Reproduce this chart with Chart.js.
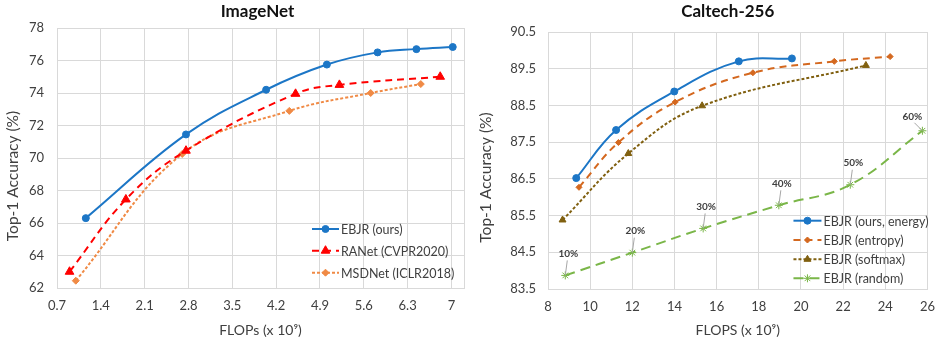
<!DOCTYPE html>
<html><head><meta charset="utf-8">
<script src="https://cdn.jsdelivr.net/npm/chart.js@4/dist/chart.umd.min.js"></script>
<style>
html,body{margin:0;padding:0;background:#fff;}
#w{position:relative;width:945px;height:340px;overflow:hidden;background:#fff;}
.c{position:absolute;top:0;height:340px;}
#c1w{left:0;width:470px;}
#c2w{left:472px;width:473px;}
</style></head><body>
<div id="w"><div class="c" id="c1w"><canvas id="c1"></canvas></div><div class="c" id="c2w"><canvas id="c2"></canvas></div></div>
<script>
// ---------- data ----------
const imagenetXTicks = [0.7, 1.4, 2.1, 2.8, 3.5, 4.2, 4.9, 5.6, 6.3, 7];
const imagenetYTicks = [62, 64, 66, 68, 70, 72, 74, 76, 78];
const ebjrFlops = [1.16, 2.76, 4.04, 5.01, 5.82, 6.44, 7.02];
const ebjrAcc   = [66.3, 71.45, 74.2, 75.75, 76.5, 76.7, 76.83];
const ranetFlops = [0.9, 1.8, 2.76, 4.51, 5.21, 6.82];
const ranetAcc   = [63.0, 67.45, 70.45, 73.95, 74.5, 75.0];
const msdFlops = [1.0, 2.7, 4.41, 5.71, 6.51];
const msdAcc   = [62.45, 70.25, 72.9, 74.0, 74.55];

const caltechXTicks = [8, 10, 12, 14, 16, 18, 20, 22, 24, 26];
const caltechYTicks = [83.5, 84.5, 85.5, 86.5, 87.5, 88.5, 89.5, 90.5];
const energyFlops = [9.34, 11.23, 13.99, 17.05, 19.57];
const energyAcc   = [86.52, 87.83, 88.88, 89.70, 89.78];
const entropyFlops = [9.47, 11.34, 14.03, 17.72, 21.58, 24.23];
const entropyAcc   = [86.27, 87.49, 88.59, 89.39, 89.70, 89.83];
const softmaxFlops = [8.69, 11.81, 15.31, 23.08];
const softmaxAcc   = [85.38, 87.19, 88.49, 89.59];
const randomFlops = [8.82, 12.0, 15.36, 18.95, 22.34, 25.76];
const randomAcc   = [83.87, 84.49, 85.15, 85.78, 86.34, 87.81];
const randomLabels = ['10%', '20%', '30%', '40%', '50%', '60%'];

// ---------- helpers ----------
const FONT = "Lato, 'Liberation Sans', sans-serif";
const GRID = '#d9d9d9';
const TXT = '#404040';
function pts(xs, ys) { return xs.map((x, i) => ({x: x, y: ys[i]})); }

const boxPlugin = {
  id: 'box',
  beforeDatasetsDraw(chart) {
    const c = chart.ctx, a = chart.chartArea;
    c.save(); c.strokeStyle = GRID; c.lineWidth = 1;
    c.strokeRect(Math.round(a.left) + 0.5, Math.round(a.top) + 0.5, Math.round(a.right - a.left), Math.round(a.bottom - a.top));
    c.restore();
  }
};
const titlePlugin = {
  id: 'ptitle',
  afterDraw(chart, args, o) {
    const c = chart.ctx, a = chart.chartArea;
    c.save(); c.font = 'bold 17px ' + FONT; c.fillStyle = '#111'; c.textAlign = 'center'; c.textBaseline = 'middle';
    c.fillText(o.text, (a.left + a.right) / 2 + o.dx, o.y);
    // vertical axis title
    c.translate(o.yx, (a.top + a.bottom) / 2 + o.ydy);
    c.rotate(-Math.PI / 2);
    c.font = '15.5px ' + FONT; c.fillStyle = TXT;
    c.fillText(o.yText, 0, 0);
    c.restore();
  }
};
function marker(c, ds, x, y) {
  if (Chart.helpers && Chart.helpers.drawPoint) {
    c.fillStyle = ds.pointBackgroundColor || ds.borderColor;
    c.strokeStyle = ds.borderColor; c.lineWidth = ds.pointBorderWidth || 1;
    Chart.helpers.drawPoint(c, {pointStyle: ds.pointStyle, radius: ds.pointRadius, rotation: 0, borderWidth: ds.pointBorderWidth || 1}, x, y);
  }
}
const legendPlugin = {
  id: 'clegend',
  afterDraw(chart, args, o) {
    const c = chart.ctx, a = chart.chartArea;
    const x0 = a.right + o.dx;
    chart.data.datasets.forEach((ds, i) => {
      const y = a.bottom + o.rows[i];
      c.save();
      c.strokeStyle = ds.borderColor; c.lineWidth = ds.borderWidth;
      c.setLineDash(ds.borderDash || []);
      c.beginPath(); c.moveTo(x0, y); c.lineTo(x0 + o.len, y); c.stroke();
      c.setLineDash([]);
      marker(c, ds, x0 + o.len / 2, y);
      c.font = '12.5px ' + FONT; c.fillStyle = TXT; c.textAlign = 'left'; c.textBaseline = 'middle';
      c.fillText(ds.label, x0 + o.len + 2, y + 1);
      c.restore();
    });
  }
};
const pctPlugin = {
  id: 'pct',
  afterDatasetsDraw(chart, args, o) {
    const meta = chart.getDatasetMeta(o.index);
    const c = chart.ctx, a = chart.chartArea;
    c.save();
    c.font = 'bold 10px ' + FONT; c.textAlign = 'center'; c.textBaseline = 'middle';
    meta.data.forEach((p, i) => {
      const txt = o.labels[i];
      const w = c.measureText(txt).width;
      let dx = 3, dy = -22;
      if (p.x + dx + w / 2 > a.right - 2) { dx = -10; dy = -14; }
      const lx = p.x + dx, ly = p.y + dy;
      c.strokeStyle = '#a6a6a6'; c.lineWidth = 1;
      c.beginPath();
      if (dy === -14) { c.moveTo(lx + 2, ly + 6); } else { c.moveTo(lx - 1, ly + 7); }
      c.lineTo(p.x, p.y); c.stroke();
      c.fillStyle = TXT;
      c.fillText(txt, lx, ly);
    });
    c.restore();
  }
};

function axes(xTicks, yTicks, xmin, xmax, ymin, ymax, xTitle, yAxisW, yPad, xAxisH) {
  return {
    x: {
      type: 'linear', min: xmin, max: xmax,
      afterBuildTicks: s => { s.ticks = xTicks.map(v => ({value: v})); },
      afterFit: s => { s.height = xAxisH; },
      grid: {color: GRID, drawTicks: false},
      border: {color: GRID},
      ticks: {padding: 10, color: TXT, font: {family: FONT, size: 13}, autoSkip: false, maxRotation: 0,
              callback: v => String(v)},
      title: {display: true, text: xTitle, color: TXT, font: {family: FONT, size: 14}, padding: {top: 0, bottom: 1}}
    },
    y: {
      type: 'linear', min: ymin, max: ymax,
      afterBuildTicks: s => { s.ticks = yTicks.map(v => ({value: v})); },
      afterFit: s => { s.width = yAxisW; },
      grid: {color: GRID, drawTicks: false},
      border: {color: GRID},
      ticks: {padding: yPad, color: TXT, font: {family: FONT, size: 13}, autoSkip: false,
              callback: v => String(v)},
      title: {display: false}
    }
  };
}

function line(label, xs, ys, color, dash, style, r, extra) {
  return Object.assign({
    label: label, data: pts(xs, ys), borderColor: color, backgroundColor: color,
    pointBackgroundColor: color, pointBorderColor: color, borderWidth: 2, borderDash: dash,
    pointStyle: style, pointRadius: r, pointBorderWidth: 1, tension: 0.4, fill: false
  }, extra || {});
}

// ---------- ImageNet ----------
new Chart(document.getElementById('c1'), {
  type: 'line',
  data: {datasets: [
    line('EBJR (ours)', ebjrFlops, ebjrAcc, '#1c76c6', [], 'circle', 3.5),
    line('RANet (CVPR2020)', ranetFlops, ranetAcc, '#ff0000', [7, 5], 'triangle', 5),
    line('MSDNet (ICLR2018)', msdFlops, msdAcc, '#f08a45', [3, 2], 'rectRot', 3.5)
  ]},
  options: {
    responsive: true, maintainAspectRatio: false, animation: false,
    layout: {padding: {top: 28, right: 5, left: 0, bottom: 0}},
    scales: axes(imagenetXTicks, imagenetYTicks, 0.7, 7.2, 62, 78, 'FLOPs (x 10⁹)', 57, 13, 52),
    plugins: {
      legend: {display: false}, tooltip: {enabled: false},
      ptitle: {text: 'ImageNet', y: 12, dx: -3, yText: 'Top-1 Accuracy (%)', yx: 13, ydy: 18},
      clegend: {dx: -152, len: 27, rows: [-59, -37.3, -15.3]}
    }
  },
  plugins: [boxPlugin, titlePlugin, legendPlugin]
});

// ---------- Caltech-256 ----------
new Chart(document.getElementById('c2'), {
  type: 'line',
  data: {datasets: [
    line('EBJR (ours, energy)', energyFlops, energyAcc, '#1c76c6', [], 'circle', 3.5),
    line('EBJR (entropy)', entropyFlops, entropyAcc, '#d4681f', [7, 5], 'rectRot', 3),
    line('EBJR (softmax)', softmaxFlops, softmaxAcc, '#806010', [3, 2], 'triangle', 4),
    line('EBJR (random)', randomFlops, randomAcc, '#7ab648', [10, 6], 'star', 4, {pointBorderWidth: 1})
  ]},
  options: {
    responsive: true, maintainAspectRatio: false, animation: false,
    layout: {padding: {top: 32, right: 17, left: 0, bottom: 0}},
    scales: axes(caltechXTicks, caltechYTicks, 8, 26, 83.5, 90.5, 'FLOPS (x 10⁹)', 76, 12, 51),
    plugins: {
      legend: {display: false}, tooltip: {enabled: false},
      ptitle: {text: 'Caltech-256', y: 12, dx: -10, yText: 'Top-1 Accuracy (%)', yx: 14, ydy: 17},
      clegend: {dx: -134, len: 28, rows: [-68.3, -49, -29.7, -10.7]},
      pct: {index: 3, labels: randomLabels}
    }
  },
  plugins: [boxPlugin, titlePlugin, legendPlugin, pctPlugin]
});
</script>
</body></html>
